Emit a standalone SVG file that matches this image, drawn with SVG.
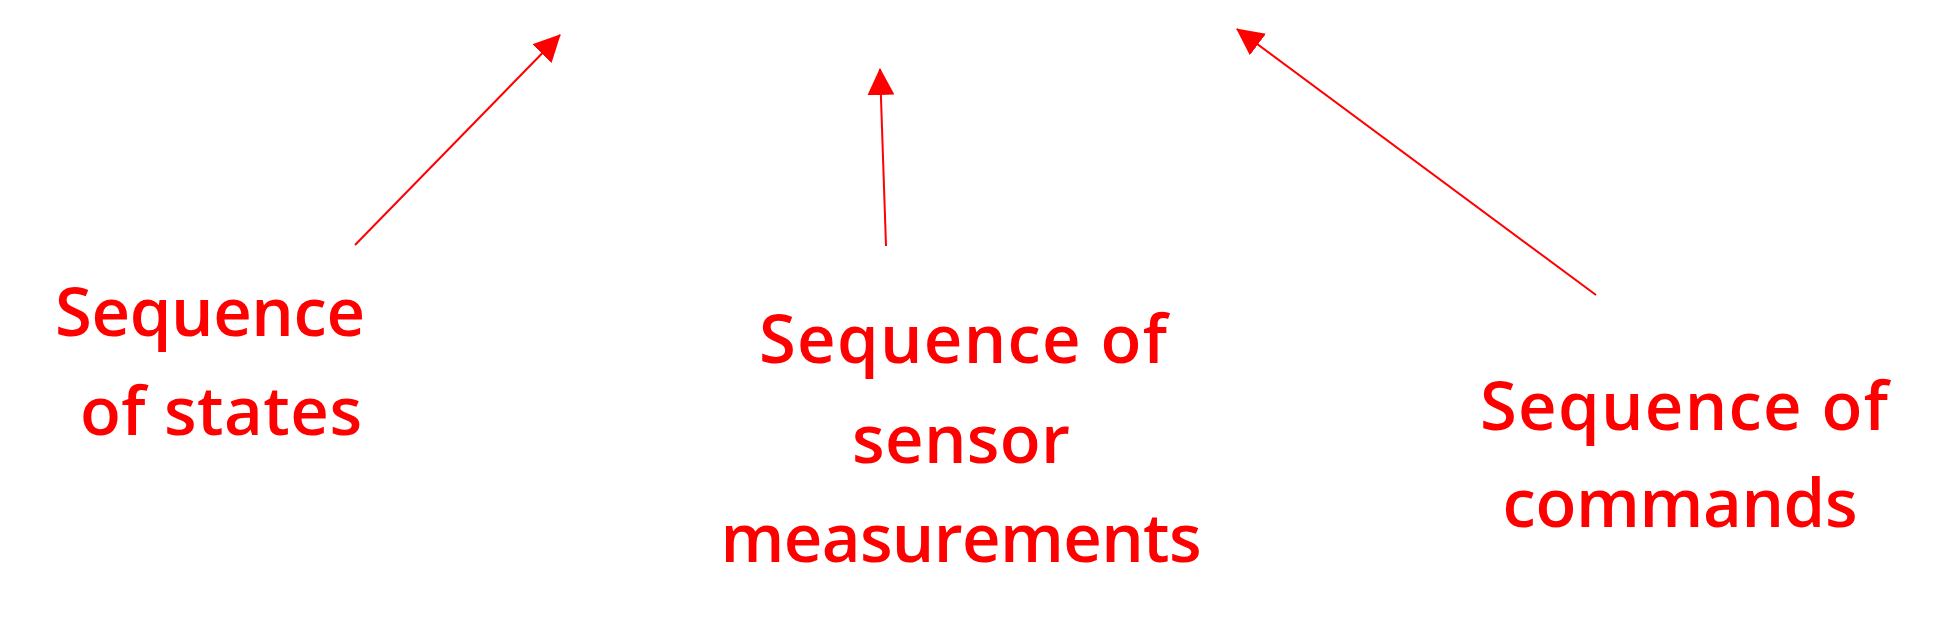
<svg xmlns="http://www.w3.org/2000/svg" width="1938" height="637" viewBox="0 0 1938 637">
  <style>
    .lbl { font-family: "Open Sans", "Noto Sans", "Liberation Sans", sans-serif; font-size: 67px; font-weight: 600; fill: #ff0000; text-anchor: middle; }
    .conn { stroke: #ff0000; stroke-width: 2; fill: none; }
  </style>
  <defs>
    <marker id="arrow" markerUnits="userSpaceOnUse" markerWidth="27" markerHeight="27" refX="26" refY="13.5" orient="auto">
      <path d="M0,0 L27,13.5 L0,27 z" fill="#ff0000"/>
    </marker>
  </defs>
  <rect width="1938" height="637" fill="#ffffff"/>
  <g id="connectors">
    <line class="conn" x1="355" y1="245" x2="560" y2="35" marker-end="url(#arrow)"/>
    <line class="conn" x1="886" y1="246" x2="880" y2="69" marker-end="url(#arrow)"/>
    <line class="conn" x1="1596" y1="295" x2="1237" y2="29" marker-end="url(#arrow)"/>
  </g>
  <g id="states">
    <text class="lbl" x="210" y="336" textLength="310">Sequence</text>
    <text class="lbl" x="221" y="435" textLength="282">of states</text>
  </g>
  <g id="sensor">
    <text class="lbl" x="963" y="363" textLength="408">Sequence of</text>
    <text class="lbl" x="961" y="463" textLength="218">sensor</text>
    <text class="lbl" x="961" y="562" textLength="481">measurements</text>
  </g>
  <g id="commands">
    <text class="lbl" x="1684" y="430" textLength="408">Sequence of</text>
    <text class="lbl" x="1680" y="527" textLength="355">commands</text>
  </g>
</svg>
